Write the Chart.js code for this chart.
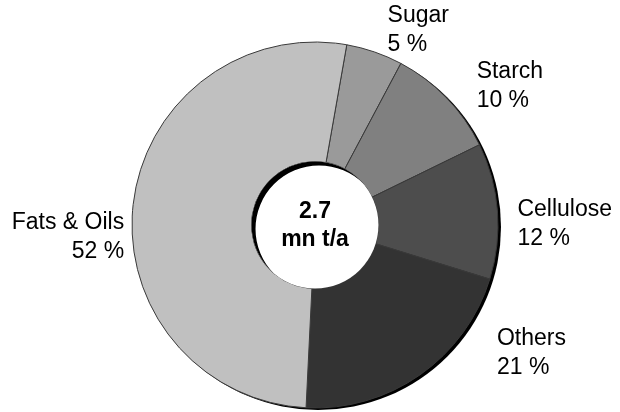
<!DOCTYPE html>
<html>
<head>
<meta charset="utf-8">
<script src="https://cdn.jsdelivr.net/npm/chart.js@4.4.1/dist/chart.umd.min.js"></script>
<style>
  html, body { margin: 0; padding: 0; background: #fff; }
  #wrap { width: 620px; height: 412px; }
</style>
</head>
<body>
<div id="wrap"><canvas id="myChart" width="620" height="412"></canvas></div>
<script>
// raw material shares, clockwise from the top
let categories = ['Sugar', 'Starch', 'Cellulose', 'Others', 'Fats & Oils'];
let shares = [5, 10, 12, 21, 52];
let totalLines = ['2.7', 'mn t/a'];

let sliceColors = ['#9a9a9a', '#808080', '#4d4d4d', '#333333', '#c0c0c0'];
// where each label sits relative to the outer edge at the slice's middle angle
let labelOffset = [[13, -36], [30, -26], [20, -1], [77, -36], [-9, 18]];
let labelAlign = ['left', 'left', 'left', 'left', 'right'];

let fontFamily = '"Liberation Sans", Arial, sans-serif';

// dark rim on the outer ring and a shadow inside the hole
let shadowPlugin = {
    id: 'ringShadow',
    beforeDatasetsDraw(chart) {
        let arc = chart.getDatasetMeta(0).data[0];
        let c = chart.ctx;
        c.save();
        c.fillStyle = '#000';
        c.beginPath();
        c.arc(arc.x + 3, arc.y + 2, arc.outerRadius, 0, Math.PI * 2);
        c.fill();
        c.restore();
    },
    afterDatasetsDraw(chart) {
        let arc = chart.getDatasetMeta(0).data[0];
        let c = chart.ctx;
        let r = arc.innerRadius;
        c.save();
        c.beginPath();
        c.arc(arc.x, arc.y, r, 0, Math.PI * 2);
        c.clip();
        c.fillStyle = '#fff';
        c.fillRect(arc.x - r - 10, arc.y - r - 10, 2 * r + 20, 2 * r + 20);
        c.fillStyle = '#000';
        c.beginPath();
        c.rect(arc.x - r - 10, arc.y - r - 10, 2 * r + 20, 2 * r + 20);
        c.arc(arc.x + 4, arc.y + 4, r, 0, Math.PI * 2);
        c.fill('evenodd');
        c.restore();
    }
};

let textPlugin = {
    id: 'ringText',
    afterDraw(chart) {
        let c = chart.ctx;
        let arcs = chart.getDatasetMeta(0).data;
        c.save();
        c.fillStyle = '#000';
        c.textBaseline = 'middle';

        // total in the hole
        c.font = 'bold 23px ' + fontFamily;
        c.textAlign = 'center';
        c.fillText(totalLines[0], arcs[0].x, arcs[0].y - 13);
        c.fillText(totalLines[1], arcs[0].x, arcs[0].y + 15);

        // category name and share next to each slice
        c.font = '23px ' + fontFamily;
        arcs.forEach(function (a, i) {
            let mid = (a.startAngle + a.endAngle) / 2;
            let x = a.x + Math.cos(mid) * a.outerRadius + labelOffset[i][0];
            let y = a.y + Math.sin(mid) * a.outerRadius + labelOffset[i][1];
            c.textAlign = labelAlign[i];
            c.fillText(categories[i], x, y);
            c.fillText(shares[i] + ' %', x, y + 29);
        });
        c.restore();
    }
};

let ctx = document.getElementById('myChart');
let myChart = new Chart(ctx, {
    type: 'doughnut',
    data: {
        labels: categories,
        datasets: [{
            data: shares,
            backgroundColor: sliceColors,
            borderColor: '#3a3a3a',
            borderWidth: 1,
            hoverOffset: 0
        }]
    },
    options: {
        responsive: false,
        animation: false,
        rotation: 10,
        radius: 183,
        cutout: 64,
        layout: { padding: { left: 130, right: 120, top: 40, bottom: 2 } },
        events: [],
        plugins: {
            legend: { display: false },
            tooltip: { enabled: false }
        }
    },
    plugins: [shadowPlugin, textPlugin]
});
</script>
</body>
</html>
